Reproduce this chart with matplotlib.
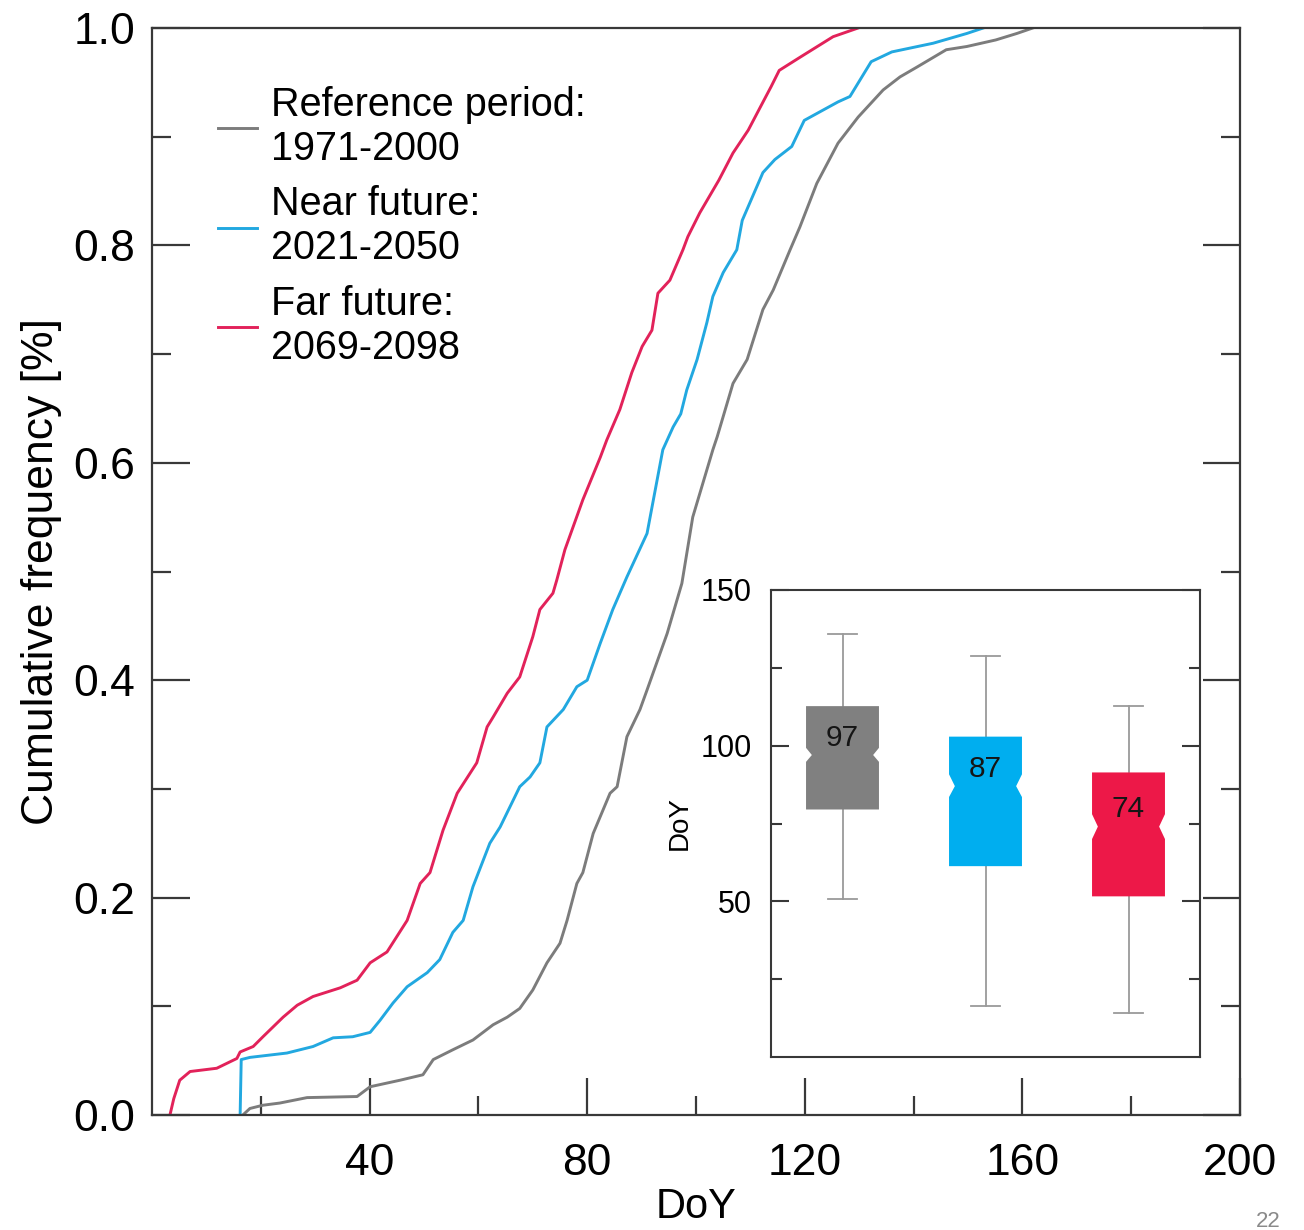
import matplotlib

matplotlib.use("Agg")
import matplotlib.pyplot as plt
from matplotlib.ticker import FixedLocator

plt.rcParams["font.family"] = ["Liberation Sans", "DejaVu Sans"]

# Cumulative distributions of DoY
REF_DOY = [16.7, 18.0, 20.4, 23.5, 28.5, 37.7, 40.1, 45.6, 49.8, 51.7, 55.3, 59.0,
           62.7, 65.3, 67.6, 70.0, 72.6, 75.0, 76.3, 78.1, 79.2, 81.1, 84.2, 85.5,
           87.3, 89.7, 91.0, 94.7, 97.4, 99.4, 103.1, 103.9, 106.8, 109.4, 112.3,
           114.2, 117.3, 119.1, 122.2, 126.1, 129.8, 134.4, 137.5, 140.6, 146.0,
           149.8, 155.1, 159.0, 161.9]
REF_CDF = [0.0, 0.006, 0.009, 0.011, 0.016, 0.017, 0.026, 0.032, 0.037, 0.051, 0.060,
           0.069, 0.083, 0.090, 0.098, 0.115, 0.140, 0.158, 0.179, 0.213, 0.223,
           0.259, 0.296, 0.302, 0.348, 0.373, 0.391, 0.443, 0.489, 0.550, 0.612,
           0.624, 0.673, 0.695, 0.741, 0.759, 0.796, 0.817, 0.857, 0.894, 0.918,
           0.943, 0.955, 0.964, 0.980, 0.983, 0.989, 0.995, 1.0]

NEAR_DOY = [16.2, 16.4, 18.0, 24.8, 29.6, 33.3, 36.9, 40.1, 41.9, 44.3, 46.9, 50.6,
            52.9, 55.3, 57.2, 59.0, 62.1, 64.0, 67.6, 69.5, 71.3, 72.6, 75.6, 78.1,
            80.0, 82.4, 84.7, 87.3, 91.0, 93.9, 95.8, 97.2, 98.3, 100.2, 102.0,
            103.1, 105.0, 107.5, 108.5, 112.3, 114.5, 117.6, 119.9, 126.1, 128.3,
            132.2, 136.0, 143.6, 149.8, 152.8]
NEAR_CDF = [0.0, 0.051, 0.053, 0.057, 0.063, 0.071, 0.072, 0.076, 0.087, 0.103,
            0.118, 0.131, 0.143, 0.168, 0.179, 0.210, 0.250, 0.265, 0.302, 0.311,
            0.324, 0.357, 0.373, 0.394, 0.400, 0.434, 0.465, 0.495, 0.535, 0.612,
            0.633, 0.645, 0.667, 0.695, 0.729, 0.753, 0.775, 0.796, 0.823, 0.867,
            0.879, 0.891, 0.915, 0.932, 0.937, 0.969, 0.978, 0.986, 0.995, 1.0]

FAR_DOY = [3.3, 4.0, 5.1, 7.0, 11.9, 15.6, 16.2, 18.6, 20.4, 24.1, 26.7, 29.6, 34.6,
           37.7, 40.1, 43.2, 46.9, 49.3, 51.1, 53.5, 56.1, 59.7, 61.6, 62.7, 65.3,
           67.6, 70.0, 71.3, 73.7, 74.4, 75.9, 79.2, 82.4, 83.6, 86.0, 88.2, 90.1,
           91.9, 93.0, 95.2, 97.6, 98.5, 100.7, 104.2, 106.8, 109.6, 111.8, 113.8,
           115.3, 119.1, 125.2, 129.8]
FAR_CDF = [0.0, 0.015, 0.032, 0.040, 0.043, 0.052, 0.058, 0.063, 0.072, 0.090, 0.101,
           0.109, 0.117, 0.124, 0.140, 0.150, 0.179, 0.213, 0.223, 0.262, 0.296,
           0.324, 0.357, 0.366, 0.388, 0.403, 0.440, 0.465, 0.480, 0.492, 0.520,
           0.566, 0.605, 0.621, 0.649, 0.683, 0.707, 0.722, 0.756, 0.768, 0.796,
           0.808, 0.830, 0.860, 0.885, 0.906, 0.927, 0.946, 0.961, 0.973, 0.992, 1.0]

LABELS = ["Reference period:\n1971-2000", "Near future:\n2021-2050",
          "Far future:\n2069-2098"]

# Inset box plot statistics (DoY)
BOX_MED = [97, 87, 74]
BOX_Q1 = [79.5, 61.3, 51.6]
BOX_Q3 = [112.7, 102.9, 91.4]
BOX_CILO = [94.8, 83.5, 70.0]
BOX_CIHI = [99.3, 90.8, 78.0]
BOX_WHISLO = [50.6, 16.5, 14.0]
BOX_WHISHI = [136.0, 128.7, 112.6]

LINE_COLORS = ["#7c7c7c", "#22a8e0", "#e2225a"]
BOX_COLORS = ["#808080", "#00aeef", "#ed1848"]
SPINE = "#383838"

fig = plt.figure(figsize=(13.04, 12.30), dpi=100)
ax = fig.add_axes([152 / 1304, 115 / 1230, 1088 / 1304, 1087 / 1230])

for xs, ys, color, label in zip([REF_DOY, NEAR_DOY, FAR_DOY], [REF_CDF, NEAR_CDF, FAR_CDF],
                                LINE_COLORS, LABELS):
    ax.plot(xs, ys, color=color, linewidth=2.1, label=label, solid_joinstyle="round")

ax.set_xlim(0, 200)
ax.set_ylim(0, 1)
ax.set_xticks([40, 80, 120, 160, 200])
ax.xaxis.set_minor_locator(FixedLocator([20, 60, 100, 140, 180]))
ax.set_yticks([0, 0.2, 0.4, 0.6, 0.8, 1.0])
ax.yaxis.set_minor_locator(FixedLocator([0.1, 0.3, 0.5, 0.7, 0.9]))
ax.tick_params(which="both", direction="in", color=SPINE, width=1.6, top=False,
               right=True, labelsize=32)
ax.tick_params(which="major", length=27)
ax.tick_params(which="minor", length=14)
ax.tick_params(axis="x", pad=20)
ax.tick_params(axis="y", pad=12)
for sp in ax.spines.values():
    sp.set_color(SPINE)
    sp.set_linewidth(1.6)

ax.set_xlabel("DoY", fontsize=30)
ax.xaxis.set_label_coords(0.5, -0.066)
ax.set_ylabel("Cumulative frequency [%]", fontsize=32)
ax.yaxis.set_label_coords(-0.083, 0.5)

ax.legend(loc="upper left", bbox_to_anchor=(0.0607, 0.947), frameon=False,
          fontsize=28.5, handlelength=0.98, handletextpad=0.35, labelspacing=0.45,
          borderpad=0, borderaxespad=0)

# Inset with notched box plots
ins = fig.add_axes([771 / 1304, 173 / 1230, 429 / 1304, 467 / 1230])
positions = [1, 2, 3]
stats = []
for i in range(3):
    stats.append({"med": BOX_MED[i], "q1": BOX_Q1[i], "q3": BOX_Q3[i],
                  "cilo": BOX_CILO[i], "cihi": BOX_CIHI[i],
                  "whislo": BOX_WHISLO[i], "whishi": BOX_WHISHI[i], "fliers": []})
ins.bxp(stats, positions=positions, showbox=False, showfliers=False,
        widths=0.51, capwidths=0.2,
        whiskerprops=dict(color="#9a9a9a", linewidth=1.3),
        capprops=dict(color="#9a9a9a", linewidth=1.3),
        medianprops=dict(linestyle="none"))

half = 0.255
notch = 0.84 * half
for i, pos in enumerate(positions):
    bx = [pos - half, pos + half, pos + half, pos + notch, pos + half, pos + half,
          pos - half, pos - half, pos - notch, pos - half, pos - half]
    by = [BOX_Q1[i], BOX_Q1[i], BOX_CILO[i], BOX_MED[i], BOX_CIHI[i], BOX_Q3[i],
          BOX_Q3[i], BOX_CIHI[i], BOX_MED[i], BOX_CILO[i], BOX_Q1[i]]
    ins.fill(bx, by, color=BOX_COLORS[i], linewidth=0, zorder=3)
    ins.text(pos, BOX_MED[i] + 5.5, str(BOX_MED[i]), ha="center", va="center",
             fontsize=21.5, color="#151515", zorder=4)

ins.set_xlim(0.5, 3.5)
ins.set_ylim(0, 150)
ins.set_xticks([])
ins.set_yticks([50, 100, 150])
ins.yaxis.set_minor_locator(FixedLocator([25, 75, 125]))
ins.tick_params(which="both", direction="in", color=SPINE, width=1.5, right=True,
                labelsize=22, pad=14)
ins.tick_params(which="major", length=13)
ins.tick_params(which="minor", length=8)
for sp in ins.spines.values():
    sp.set_color(SPINE)
    sp.set_linewidth(1.5)
ins.set_ylabel("DoY", fontsize=20)
ins.yaxis.set_label_coords(-0.182, 0.5)

fig.text(1256 / 1304, 1 - 1211 / 1230, "22", fontsize=16, color="#8a8a8a",
         ha="left", va="top")

fig.savefig("out.png", dpi=100, facecolor="white")
